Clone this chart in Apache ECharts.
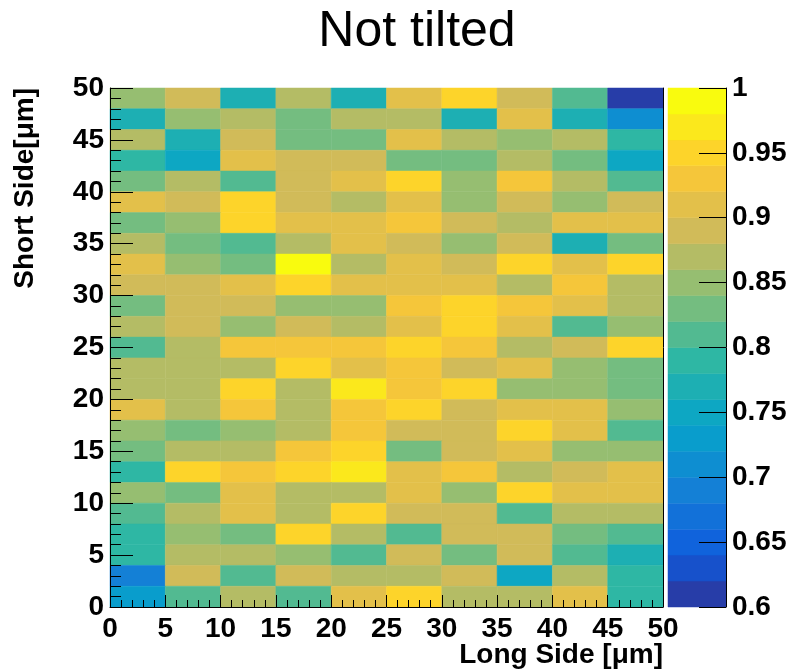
<!DOCTYPE html>
<html>
<head>
<meta charset="utf-8">
<title>Not tilted</title>
<script src="https://cdn.jsdelivr.net/npm/echarts@6/dist/echarts.min.js"></script>
<style>
  html, body { margin: 0; padding: 0; background: #fff; }
  #chart { width: 792px; height: 671px; }
</style>
</head>
<body>
<div id="chart"></div>
<script>
// Bin edges along each side (µm)
const xBinStarts = [0, 5, 10, 15, 20, 25, 30, 35, 40, 45];
const xBinWidth = 5;
const yBinWidth = 2;
const xTickLabels = [0, 5, 10, 15, 20, 25, 30, 35, 40, 45, 50];
const zTickLabels = [0.6, 0.65, 0.7, 0.75, 0.8, 0.85, 0.9, 0.95, 1];

// Efficiency per cell, one row per 2 µm strip, first row = 48–50 µm, last row = 0–2 µm
const row48 = [0.85, 0.89, 0.77, 0.87, 0.77, 0.91, 0.95, 0.89, 0.81, 0.61];
const row46 = [0.77, 0.85, 0.87, 0.83, 0.87, 0.87, 0.77, 0.91, 0.77, 0.71];
const row44 = [0.87, 0.77, 0.89, 0.83, 0.83, 0.91, 0.87, 0.85, 0.87, 0.79];
const row42 = [0.79, 0.75, 0.91, 0.89, 0.89, 0.83, 0.83, 0.87, 0.83, 0.75];
const row40 = [0.83, 0.87, 0.81, 0.89, 0.91, 0.95, 0.85, 0.93, 0.87, 0.81];
const row38 = [0.91, 0.89, 0.95, 0.89, 0.87, 0.91, 0.85, 0.89, 0.85, 0.89];
const row36 = [0.83, 0.85, 0.95, 0.91, 0.91, 0.93, 0.89, 0.87, 0.91, 0.91];
const row34 = [0.87, 0.83, 0.81, 0.87, 0.91, 0.89, 0.85, 0.89, 0.77, 0.83];
const row32 = [0.91, 0.85, 0.83, 0.99, 0.87, 0.91, 0.89, 0.95, 0.91, 0.95];
const row30 = [0.89, 0.89, 0.91, 0.95, 0.91, 0.91, 0.91, 0.87, 0.93, 0.87];
const row28 = [0.83, 0.89, 0.89, 0.85, 0.85, 0.93, 0.95, 0.93, 0.91, 0.87];
const row26 = [0.87, 0.89, 0.85, 0.89, 0.87, 0.91, 0.95, 0.91, 0.81, 0.85];
const row24 = [0.81, 0.87, 0.93, 0.93, 0.93, 0.95, 0.93, 0.87, 0.89, 0.95];
const row22 = [0.87, 0.87, 0.87, 0.95, 0.91, 0.93, 0.89, 0.91, 0.85, 0.83];
const row20 = [0.87, 0.87, 0.95, 0.87, 0.97, 0.93, 0.95, 0.85, 0.85, 0.83];
const row18 = [0.91, 0.87, 0.93, 0.87, 0.93, 0.95, 0.89, 0.91, 0.91, 0.85];
const row16 = [0.85, 0.83, 0.85, 0.87, 0.93, 0.89, 0.89, 0.95, 0.91, 0.81];
const row14 = [0.83, 0.87, 0.87, 0.93, 0.95, 0.83, 0.89, 0.91, 0.85, 0.85];
const row12 = [0.79, 0.95, 0.93, 0.95, 0.97, 0.91, 0.93, 0.87, 0.89, 0.91];
const row10 = [0.85, 0.83, 0.91, 0.87, 0.87, 0.91, 0.85, 0.95, 0.91, 0.91];
const row08 = [0.81, 0.87, 0.91, 0.87, 0.95, 0.89, 0.89, 0.81, 0.87, 0.87];
const row06 = [0.79, 0.85, 0.83, 0.95, 0.87, 0.81, 0.89, 0.89, 0.83, 0.81];
const row04 = [0.79, 0.87, 0.87, 0.85, 0.81, 0.89, 0.83, 0.89, 0.81, 0.77];
const row02 = [0.69, 0.89, 0.81, 0.89, 0.87, 0.87, 0.89, 0.75, 0.87, 0.79];
const row00 = [0.73, 0.81, 0.87, 0.81, 0.91, 0.95, 0.87, 0.87, 0.91, 0.79];

const rows = [row48, row46, row44, row42, row40, row38, row36, row34, row32, row30,
              row28, row26, row24, row22, row20, row18, row16, row14, row12, row10,
              row08, row06, row04, row02, row00];

// 20 contour levels between 0.6 and 1 with the bird palette
const zMin = 0.6, zMax = 1.0, nLevels = 20;
const levelColors = ['#273DA8', '#1751CB', '#1063DC', '#1271D9', '#1480D6',
                     '#0E8ED1', '#099DCC', '#0DA7C3', '#1DAFB3', '#2EB7A4',
                     '#52BA91', '#74BD80', '#96BE71', '#B4BC65', '#D1BB59',
                     '#E3C04A', '#F5C63A', '#FDD42A', '#FBE81C', '#F9FB0E'];

const step = (zMax - zMin) / nLevels;
const pieces = levelColors.map((c, i) => ({
  gte: +(zMin + i * step).toFixed(4),
  lt: i === nLevels - 1 ? 1.0001 : +(zMin + (i + 1) * step).toFixed(4),
  color: c
}));

// Cells as [xLow, yLow, value]
const cells = [];
rows.forEach((row, r) => {
  const yLow = (rows.length - 1 - r) * yBinWidth;
  row.forEach((v, c) => cells.push([xBinStarts[c], yLow, v]));
});

// Colour bar bands as [low, high, mid]
const bands = pieces.map(p => [p.gte, Math.min(p.lt, 1), +(p.gte + step / 2).toFixed(4)]);

const FONT = 'Liberation Sans';
const labelStyle = { fontFamily: FONT, fontWeight: 'bold', fontSize: 28, color: '#000' };

const chart = echarts.init(document.getElementById('chart'), null, { renderer: 'canvas' });

chart.setOption({
  backgroundColor: '#fff',
  animation: false,
  grid: [
    { left: 110, top: 88, width: 553, height: 519, show: false },
    { left: 668, top: 88, width: 58, height: 519, show: false }
  ],
  xAxis: [
    {
      gridIndex: 0, type: 'value', min: 0, max: 50, interval: 5, z: 10,
      axisLine: { show: true, onZero: false, lineStyle: { color: '#000', width: 1 } },
      axisTick: { show: true, inside: true, length: 12, lineStyle: { color: '#000' } },
      minorTick: { show: true, splitNumber: 5, length: 7, lineStyle: { color: '#000' } },
      splitLine: { show: false },
      axisLabel: Object.assign({ margin: 8, formatter: v => String(v) }, labelStyle)
    },
    {
      gridIndex: 1, type: 'value', min: 0, max: 1, show: false
    }
  ],
  yAxis: [
    {
      gridIndex: 0, type: 'value', min: 0, max: 50, interval: 5, z: 10,
      axisLine: { show: true, onZero: false, lineStyle: { color: '#000', width: 1 } },
      axisTick: { show: true, inside: true, length: 23, lineStyle: { color: '#000' } },
      minorTick: { show: true, splitNumber: 5, length: 11, lineStyle: { color: '#000' } },
      splitLine: { show: false },
      axisLabel: Object.assign({ margin: 6 }, labelStyle)
    },
    {
      gridIndex: 0, type: 'value', min: 0, max: 50, position: 'right', z: 10,
      axisLine: { show: true, onZero: false, lineStyle: { color: '#000', width: 1 } },
      axisTick: { show: false }, axisLabel: { show: false }, splitLine: { show: false }
    },
    {
      gridIndex: 1, type: 'value', min: zMin, max: zMax, interval: 0.05, position: 'right', z: 10,
      axisLine: { show: true, onZero: false, lineStyle: { color: '#000', width: 1 } },
      axisTick: { show: true, inside: true, length: 27, lineStyle: { color: '#000' } },
      splitLine: { show: false },
      axisLabel: Object.assign({ margin: 6, formatter: v => String(+v.toFixed(2)) }, labelStyle)
    }
  ],
  visualMap: {
    type: 'piecewise',
    show: false,
    dimension: 2,
    seriesIndex: [0, 1],
    pieces: pieces
  },
  series: [
    {
      type: 'custom',
      xAxisIndex: 0, yAxisIndex: 0,
      data: cells,
      encode: { x: 0, y: 1 },
      renderItem: function (params, api) {
        const x0 = api.value(0), y0 = api.value(1);
        const tl = api.coord([x0, y0 + yBinWidth]);
        const br = api.coord([x0 + xBinWidth, y0]);
        return {
          type: 'rect',
          shape: { x: tl[0], y: tl[1], width: br[0] - tl[0], height: br[1] - tl[1] },
          style: { fill: api.visual('color'), stroke: api.visual('color'), lineWidth: 0.5 }
        };
      }
    },
    {
      type: 'custom',
      xAxisIndex: 1, yAxisIndex: 2,
      data: bands,
      encode: { y: [0, 1] },
      renderItem: function (params, api) {
        const lo = api.value(0), hi = api.value(1);
        const tl = api.coord([0, hi]);
        const br = api.coord([1, lo]);
        return {
          type: 'rect',
          shape: { x: tl[0], y: tl[1], width: br[0] - tl[0], height: br[1] - tl[1] },
          style: { fill: api.visual('color'), stroke: api.visual('color'), lineWidth: 0.5 }
        };
      }
    }
  ],
  graphic: [
    {
      type: 'text', x: 417, y: 32,
      style: { text: 'Not tilted', font: 'normal 50px "Liberation Sans"', fill: '#000',
               textAlign: 'center', textVerticalAlign: 'middle' }
    },
    {
      type: 'text', x: 663, y: 655,
      style: { text: 'Long Side [μm]', font: 'bold 28px "Liberation Sans"', fill: '#000',
               textAlign: 'right', textVerticalAlign: 'middle' }
    },
    {
      type: 'text', x: 25, y: 88, rotation: Math.PI / 2,
      style: { text: 'Short Side[μm]', font: 'bold 28px "Liberation Sans"', fill: '#000',
               textAlign: 'right', textVerticalAlign: 'middle' }
    }
  ]
});
</script>
</body>
</html>
